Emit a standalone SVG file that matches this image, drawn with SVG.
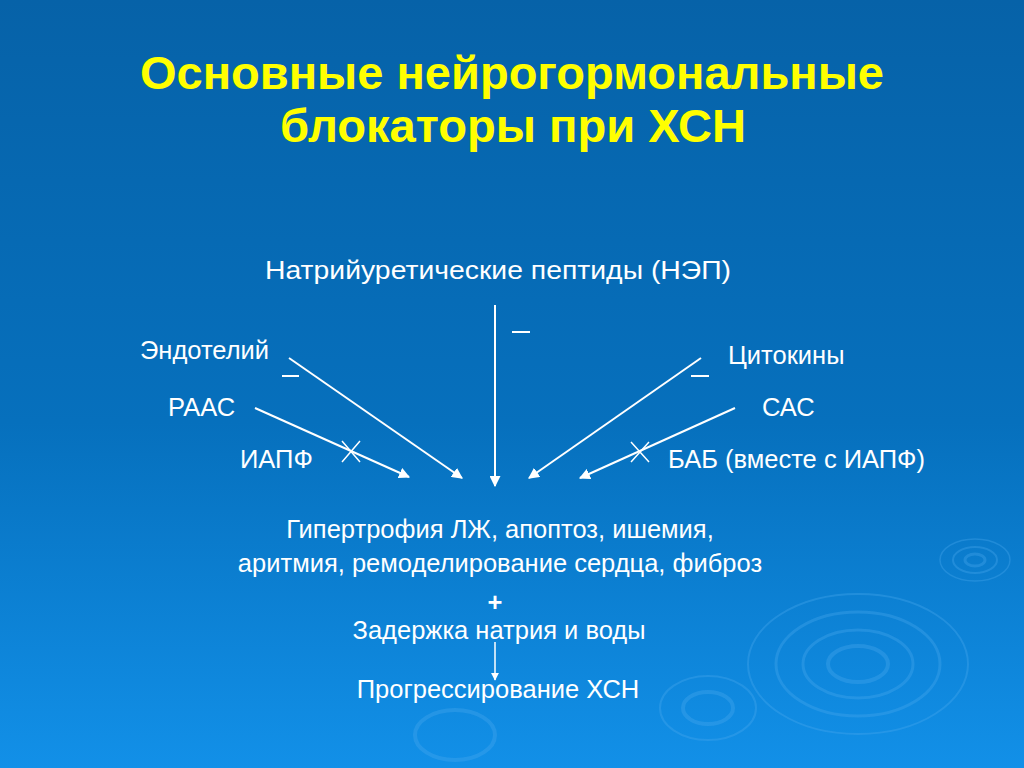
<svg xmlns="http://www.w3.org/2000/svg" width="1024" height="768" viewBox="0 0 1024 768">
<defs>
<linearGradient id="bg" x1="0" y1="0" x2="0" y2="1">
<stop offset="0" stop-color="#0662a8"/>
<stop offset="0.55" stop-color="#0670bd"/>
<stop offset="1" stop-color="#1290e8"/>
</linearGradient>
<marker id="ah" viewBox="0 0 10 10" refX="9" refY="5" markerWidth="5.5" markerHeight="5.5" orient="auto" markerUnits="strokeWidth">
<path d="M0,0 L10,5 L0,10 z" fill="#ffffff"/>
</marker>
<style>
.title{font-family:"Liberation Sans",Arial,sans-serif;font-weight:bold;font-size:47px;fill:#ffff00;text-anchor:middle}
.t{font-family:"Liberation Sans",Arial,sans-serif;font-size:25.5px;fill:#ffffff}
.c{text-anchor:middle}
.ln{stroke:#ffffff;stroke-width:2;fill:none}
.thin{stroke:#ffffff;stroke-width:1.5;fill:none}
.rip{fill:none;stroke:#4aa8ee;stroke-opacity:0.35}
</style>
</defs>
<rect width="1024" height="768" fill="url(#bg)"/>
<g id="ripples">
<ellipse class="rip" cx="858" cy="664" rx="30" ry="18" stroke-width="4"/>
<ellipse class="rip" cx="858" cy="664" rx="55" ry="34" stroke-width="3"/>
<ellipse class="rip" cx="858" cy="664" rx="82" ry="52" stroke-width="3"/>
<ellipse class="rip" cx="858" cy="664" rx="110" ry="70" stroke-width="2"/>
<ellipse class="rip" cx="975" cy="560" rx="10" ry="6" stroke-width="3"/>
<ellipse class="rip" cx="975" cy="560" rx="22" ry="13" stroke-width="2"/>
<ellipse class="rip" cx="975" cy="560" rx="35" ry="21" stroke-width="1.5"/>
<ellipse class="rip" cx="708" cy="708" rx="25" ry="16" stroke-width="4"/>
<ellipse class="rip" cx="708" cy="708" rx="48" ry="32" stroke-width="2"/>
<ellipse class="rip" cx="455" cy="735" rx="40" ry="25" stroke-width="4" stroke-opacity="0.25"/>
</g>
<g id="title">
<text class="title" x="512" y="89" textLength="744" lengthAdjust="spacingAndGlyphs">Основные нейрогормональные</text>
<text class="title" x="513" y="142" textLength="466" lengthAdjust="spacingAndGlyphs">блокаторы при ХСН</text>
</g>
<g id="node-nep"><text class="t c" x="498" y="279" font-size="23" textLength="466" lengthAdjust="spacingAndGlyphs">Натрийуретические пептиды (НЭП)</text></g>
<g id="node-endotel"><text class="t" x="140" y="359">Эндотелий</text></g>
<g id="node-raas"><text class="t" x="168" y="416">РААС</text></g>
<g id="node-iapf"><text class="t" x="240" y="468">ИАПФ</text></g>
<g id="node-cytokines"><text class="t" x="728" y="364">Цитокины</text></g>
<g id="node-sas"><text class="t" x="762" y="416">САС</text></g>
<g id="node-bab"><text class="t" x="668" y="468">БАБ (вместе с ИАПФ)</text></g>
<g id="node-effects">
<text class="t c" x="500" y="538">Гипертрофия ЛЖ, апоптоз, ишемия,</text>
<text class="t c" x="500" y="572">аритмия, ремоделирование сердца, фиброз</text>
</g>
<g id="node-plus"><text class="t c" x="495" y="611" font-weight="bold" font-size="24">+</text></g>
<g id="node-retention"><text class="t c" x="499" y="639">Задержка натрия и воды</text></g>
<g id="node-progression"><text class="t c" x="498" y="698">Прогрессирование ХСН</text></g>
<g id="connectors">
<line class="ln" x1="495" y1="305" x2="495" y2="486" marker-end="url(#ah)"/>
<line class="ln" x1="289" y1="358" x2="462" y2="478" marker-end="url(#ah)"/>
<line class="ln" x1="255" y1="408" x2="409" y2="477" marker-end="url(#ah)"/>
<line class="ln" x1="701" y1="358" x2="529" y2="478" marker-end="url(#ah)"/>
<line class="ln" x1="735" y1="408" x2="580" y2="478" marker-end="url(#ah)"/>
<line class="thin" x1="495" y1="642" x2="495" y2="680" marker-end="url(#ah)"/>
</g>
<g id="signs">
<line class="ln" x1="512" y1="332" x2="530" y2="332"/>
<line class="ln" x1="282" y1="376" x2="299" y2="376"/>
<line class="ln" x1="691" y1="376" x2="709" y2="376"/>
<path class="thin" d="M342,441 L360,462 M360,441 L342,462"/>
<path class="thin" d="M631,442 L649,462 M649,442 L631,462"/>
</g>
</svg>
